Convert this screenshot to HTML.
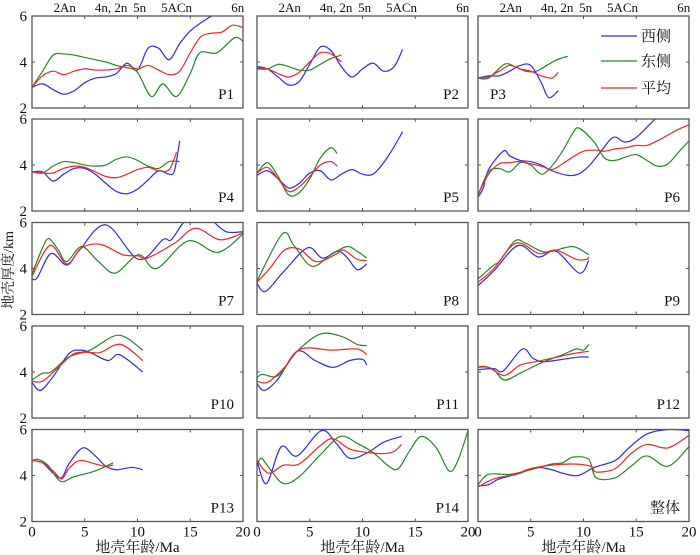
<!DOCTYPE html>
<html><head><meta charset="utf-8"><style>
body{margin:0;background:#fff;}
svg{display:block;}
svg text{font-family:"Liberation Serif","Noto Serif CJK SC",serif;fill:#111;}
</style></head><body>
<svg id="chart" width="700" height="555" viewBox="0 0 700 555"></svg>
<script>
const NS="http://www.w3.org/2000/svg";
const svg=document.getElementById('chart');
// ---- data ----
const panelNames=["P1","P2","P3","P4","P5","P6","P7","P8","P9","P10","P11","P12","P13","P14","整体"];
const seriesNames=["西侧","东侧","平均"];
const chronLabels=["2An","4n, 2n","5n","5ACn","6n"];
const chronAges=[3.1,7.5,10.2,13.7,19.5];
const xTicks=[0,5,10,15,20];
const yTicks=[2,4,6];
const westAges=[
[0,1,2,3,4,5,6,7,8,9,10,11,12,13,14,15,16,17,18],
[0,1,2,3,4,5,6,7,8,9,10,11,12,13,13.8],
[0,1,2,3,4,5,6,6.7,7.6],
[0,1,2,3,4,5,6,7,8,9,10,11,12,13,13.5,14],
[0,1,2,3,4,5,6,7,8,9,10,11,12,13,13.8],
[0,0.5,1,2.4,3,4,5,6,7,8.5,9.5,10.5,11.5,12.8,13.9,15,16.8,18],
[0,0.5,1.8,3.3,4.5,7.0,10.1,12.4,13.2,14.5,16,17,18.4,20],
[0,0.8,2.5,4.8,6.2,7.6,8.5,9.5,10.4],
[0,1.5,3.8,5.7,7.4,9.6,10.5],
[0,0.8,2.0,3.5,4.5,5.5,7.2,8.3,10.5],
[0,0.7,2,3.8,5.5,7.2,8.8,10,10.4],
[0,1.5,2.4,4.2,5.2,6.2,8,9.6,10.5],
[0,1,2,2.8,3.5,4.8,6,7,8,9.5,10.5],
[0,0.9,2.3,3.8,6.1,7.5,8.8,10.5,12,13.7],
[0,1,2,4,5.5,7,8,9.5,11,13,14.3,16,18,20]];
const westVals=[
[2.9,3.05,2.8,2.6,2.75,3.1,3.3,3.35,3.5,3.95,3.65,4.6,4.6,4.1,4.8,5.35,5.7,6.0,6.3],
[3.8,3.7,3.35,3.0,3.15,3.9,4.65,4.5,3.8,3.35,3.7,3.95,3.6,3.8,4.55],
[3.3,3.4,3.4,3.6,3.85,3.85,3.1,2.45,2.75],
[3.7,3.7,3.3,3.6,3.85,3.85,3.6,3.2,2.85,2.75,2.95,3.35,3.75,3.6,3.75,5.05],
[3.55,3.75,3.4,3.0,3.2,3.65,3.75,3.35,3.6,3.8,3.6,3.6,4.1,4.8,5.45],
[2.6,3.0,3.8,4.6,4.4,4.2,4.15,4.0,3.75,3.55,3.6,3.95,4.5,5.2,5.0,5.2,6.0,6.4],
[3.55,3.6,4.65,4.15,4.8,5.9,4.4,5.25,5.25,6.05,6.2,6.1,5.6,5.6],
[3.35,3.0,3.85,4.9,4.45,4.75,4.5,3.95,4.2],
[3.25,3.9,5.0,4.5,4.75,3.8,4.35],
[3.55,3.2,3.8,4.8,4.95,4.85,4.5,4.75,4.0],
[3.5,3.2,3.7,4.9,4.5,4.2,4.5,4.55,4.3],
[4.1,4.15,4.05,5.0,4.6,4.45,4.55,4.65,4.65],
[4.65,4.55,4.1,3.9,4.5,5.2,4.85,4.4,4.25,4.35,4.25],
[4.65,3.65,5.25,4.85,5.95,5.4,4.75,5.0,5.45,5.7],
[3.55,3.6,3.85,4.1,4.35,4.25,4.1,4.0,4.35,4.65,5.2,5.8,6.0,5.95]];
const eastAges=[
[0,1,2,3,4,5,6,7,8,9,10,11.3,12.4,13.7,15,15.9,17.5,19.2,20],
[0,1,2,3,4,5,6,7,8],
[0,1,2.5,3.5,4.5,5.5,6.5,7.5,8.5],
[0,1,2,3,4,5,6,7,8,9,10,11,12,13,14],
[0,1,2,3,4,5,6,7,7.6],
[0,1,2,3,4,5,6,7,8,9,9.6,11,12,13,14,15,16,17,18,19,20],
[0,1,1.6,2.5,3.3,4.7,6.3,7.9,10.1,11.8,14.8,17.6,20],
[0,2.4,3.5,5.2,7,8.5,9.5,10.4],
[0,1.5,2.0,3.5,4.5,6,7,9,10.5],
[0,1,1.8,3.5,5.5,8.2,10.5],
[0,0.5,2,3.8,6,8,9.5,10.4],
[0,0.5,1.5,2.5,4,6,8,9.3,10,10.5],
[0,0.6,1.5,2.7,4,6,7.7],
[0,0.4,1.2,2.5,4,6,7.9,9.5,11,12.5,13.4,14.5,15.6,17,18.2,19,20],
[0,1,3,5,7,8,9,10.5,11.2,13,14.5,16,18,20]];
const eastVals=[
[2.9,3.6,4.3,4.35,4.3,4.2,4.1,4.0,3.85,3.75,3.55,2.5,3.05,2.5,3.5,4.4,4.4,5.05,4.9],
[3.7,3.7,3.9,3.8,3.65,3.65,3.9,4.15,4.3],
[3.3,3.3,3.9,3.8,3.6,3.6,3.85,4.1,4.25],
[3.7,3.65,3.95,4.15,4.1,4.0,3.95,4.0,4.25,4.35,4.2,3.95,3.85,4.15,4.15],
[3.65,4.1,3.5,2.7,2.8,3.4,4.3,4.75,4.5],
[2.7,3.7,3.85,3.7,4.1,4.0,3.6,3.95,4.6,5.4,5.6,5.0,4.3,4.2,4.35,4.45,4.2,3.95,4.05,4.55,5.05],
[3.75,4.9,5.3,4.8,4.3,4.95,4.3,3.8,4.6,4.0,5.2,4.7,5.5],
[3.45,5.5,5.0,4.1,4.6,4.95,4.75,4.45],
[3.55,4.15,4.3,5.2,5.1,4.75,4.75,4.95,4.6],
[3.65,3.95,4.0,4.65,4.95,5.6,4.95],
[3.75,3.9,3.85,4.9,5.65,5.55,5.2,5.15],
[4.2,4.25,4.1,3.65,3.95,4.4,4.75,5.0,4.95,5.2],
[4.65,4.7,4.45,3.75,3.95,4.2,4.55],
[4.4,4.75,4.3,3.65,3.95,4.9,5.7,5.4,5.0,4.4,4.3,5.1,5.7,5.2,4.2,4.6,5.95],
[3.6,4.05,4.05,4.25,4.5,4.55,4.8,4.7,3.9,3.9,4.4,4.85,4.4,5.25]];
const meanAges=[
[0,1,2,3,4,5,6,7,8,9,10,11,12,13,14,15,16,17,18,19,20],
[0,1,2,3,4,5,6,7,8],
[0,1,2,3,4,5,6,7,7.6],
[0,1,2,3,4,5,6,7,8,9,10,11,12,13,13.7],
[0,1,2,3,4,5,6,7,7.6],
[0,1,2,3,4,5,6,7,8,9,10,11,12,13,14,15,16,17,18,19,20],
[0,1.7,3.3,4.7,6.5,8.6,10.1,10.9,13.5,15.5,17.8,20],
[0,1.2,2.6,4,5.6,7.4,8.2,9.5,10.4],
[0,1.5,3.6,5.8,7.4,9.3,10.3,10.5],
[0,1,2.5,4,5.5,6.5,8.4,10.5],
[0,1,2.5,3.8,5,7,9.5,10.4],
[0,1,2.5,4,5.5,7,9,10.5],
[0,1,2,2.8,3.5,4.5,6,7,7.7],
[0,1.1,2.5,4,6,7.2,8.8,10.5,12,13,13.7],
[0,1.5,3.5,5,7,9,10.7,11.2,13,14.5,16,18,20]];
const meanVals=[
[2.9,3.4,3.6,3.45,3.6,3.7,3.65,3.65,3.7,3.85,3.7,3.85,3.65,3.45,3.6,4.4,5.1,5.25,5.3,5.6,5.5],
[3.75,3.7,3.5,3.35,3.55,4.0,4.4,4.35,4.0],
[3.3,3.35,3.6,3.85,3.7,3.6,3.4,3.3,3.55],
[3.7,3.65,3.65,3.85,3.95,3.9,3.7,3.5,3.45,3.6,3.8,3.9,3.75,3.8,4.55],
[3.65,3.9,3.4,2.85,3.05,3.5,4.0,4.15,3.95],
[2.7,3.6,4.05,4.1,4.15,4.05,3.95,3.8,4.05,4.35,4.6,4.65,4.6,4.7,4.75,4.85,4.85,5.05,5.3,5.55,5.75],
[3.65,5.0,4.2,4.9,5.05,4.6,4.55,4.45,5.1,5.75,5.25,5.55],
[3.4,4.0,4.8,4.85,4.3,4.6,4.8,4.4,4.35],
[3.4,4.0,5.1,4.65,4.8,4.4,4.4,4.5],
[3.6,3.6,4.2,4.8,4.85,4.85,5.2,4.5],
[3.6,3.55,4.15,4.9,5.05,4.95,5.0,4.75],
[4.2,4.2,3.85,4.3,4.45,4.6,4.8,4.9],
[4.65,4.55,4.2,3.85,4.3,4.65,4.5,4.4,4.45],
[4.65,4.1,4.45,4.5,5.3,5.6,5.15,5.0,4.95,5.05,5.35],
[3.5,3.85,4.05,4.3,4.45,4.5,4.4,4.15,4.3,4.95,5.35,5.2,5.75]];
// ---- layout ----
const colX=[32,257,478], panelW=211, rowY=[16,119,222.5,326,429.5], panelH=92;
const colors=["#2a2aff","#1e8c1e","#ff2020"];
function el(tag,attrs,parent){const e=document.createElementNS(NS,tag);for(const k in attrs)e.setAttribute(k,attrs[k]);(parent||svg).appendChild(e);return e;}
const defs=el('defs',{});
function pathFrom(ages,vals,sx,sy){
  const p=ages.map((a,i)=>[sx(a),sy(vals[i])]);
  let d=`M${p[0][0].toFixed(2)},${p[0][1].toFixed(2)}`;
  for(let i=0;i<p.length-1;i++){
    const p0=p[Math.max(0,i-1)],p1=p[i],p2=p[i+1],p3=p[Math.min(p.length-1,i+2)];
    const c1=[p1[0]+(p2[0]-p0[0])/6,p1[1]+(p2[1]-p0[1])/6];
    const c2=[p2[0]-(p3[0]-p1[0])/6,p2[1]-(p3[1]-p1[1])/6];
    d+=` C${c1[0].toFixed(2)},${c1[1].toFixed(2)} ${c2[0].toFixed(2)},${c2[1].toFixed(2)} ${p2[0].toFixed(2)},${p2[1].toFixed(2)}`;
  }
  return d;
}
panelNames.forEach((name,idx)=>{
  const c=idx%3,r=Math.floor(idx/3);
  const x0=colX[c],y0=rowY[r];
  const sx=a=>x0+a/20*panelW;
  const sy=v=>y0+(6-v)/4*panelH;
  const g=el('g',{});
  
  
  const cp=el('clipPath',{id:'clip'+idx},defs);
  el('rect',{x:x0,y:y0,width:panelW,height:panelH},cp);
  const sets=[[westAges,westVals],[eastAges,eastVals],[meanAges,meanVals]];
  sets.forEach((s,si)=>{
    const pth=el('path',{d:pathFrom(s[0][idx],s[1][idx],sx,sy),fill:'none',stroke:colors[si],'stroke-width':1.2,'clip-path':`url(#clip${idx})`},g);
    
    
  });
  const fr=el('rect',{x:x0,y:y0,width:panelW,height:panelH,fill:'none',stroke:'#555','stroke-width':1.3},g);
  
  
  xTicks.forEach(t=>{
    el('line',{x1:sx(t),x2:sx(t),y1:y0+panelH,y2:y0+panelH-3,stroke:'#555'},g);
    el('line',{x1:sx(t),x2:sx(t),y1:y0,y2:y0+3,stroke:'#555'},g);
  });
  yTicks.forEach(t=>{
    el('line',{x1:x0,x2:x0+3,y1:sy(t),y2:sy(t),stroke:'#555'},g);
    el('line',{x1:x0+panelW,x2:x0+panelW-3,y1:sy(t),y2:sy(t),stroke:'#555'},g);
    if(c===0){const tl=el('text',{x:x0-5,y:sy(t)+5,'text-anchor':'end','font-size':15},g);tl.textContent=t;
      
      }
  });
  const left=(name==="P3");
  const lab=el('text',{x:left?x0+12:x0+panelW-9,y:y0+panelH-9,'text-anchor':left?'start':'end','font-size':15},g);
  lab.textContent=name;
  
  
  if(r===0){chronLabels.forEach((cl,i)=>{const t=el('text',{x:sx(chronAges[i]),y:12,'text-anchor':'middle','font-size':13},g);t.textContent=cl;
    
    });}
  if(r===4){xTicks.forEach(t=>{const tl=el('text',{x:sx(t),y:y0+panelH+15,'text-anchor':'middle','font-size':15},g);tl.textContent=t;
      
      });
    const xt=el('text',{x:x0+panelW/2,y:552,'text-anchor':'middle','font-size':15},g);xt.textContent='地壳年龄/Ma';
    
    }
});
// legend
const lg=el('g',{});


const legY=[36,61,88];
seriesNames.forEach((s,i)=>{
  el('line',{x1:601,x2:637,y1:legY[i],y2:legY[i],stroke:colors[i],'stroke-width':1.3},lg);
  const t=el('text',{x:641,y:legY[i]+5,'font-size':15},lg);t.textContent=s;
  
  
});
const yt=el('text',{x:13,y:270,'text-anchor':'middle','font-size':14,transform:'rotate(-90 13 270)'});
yt.textContent='地壳厚度/km';


</script>
</body></html>
